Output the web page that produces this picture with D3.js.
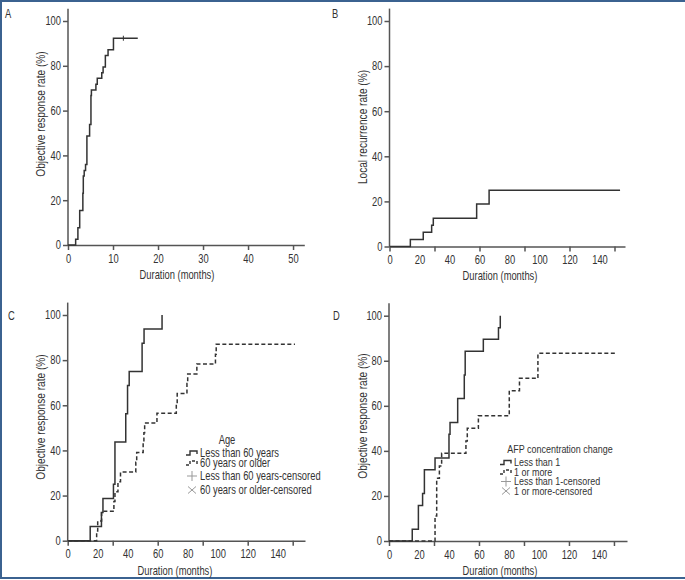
<!DOCTYPE html>
<html>
<head>
<meta charset="utf-8">
<script src="https://cdn.jsdelivr.net/npm/d3@7"></script>
<style>
  html, body { margin: 0; padding: 0; background: #fff; }
  svg text { font-family: "Liberation Sans", Arial, sans-serif; fill: #333; }
</style>
</head>
<body>
<svg id="chart" width="685" height="580"></svg>
<script>
// ---------- data ----------
const yTickValues = [0, 20, 40, 60, 80, 100];
const shortTickValues = [0, 10, 20, 30, 40, 50];
const longTickMarks = [0, 30, 60, 90, 120, 150];
const longTickLabels = [0, 20, 40, 60, 80, 100, 120, 140];

// Panel A: objective response rate (months, %)
const seriesA = [[0,0],[1.7,2.6],[2.2,7.7],[2.6,15.4],[3.3,23.1],[3.4,30.8],[3.6,33.3],[3.9,35.9],[4.2,48.7],[4.8,53.8],[5.1,66.7],[5.2,69.2],[6.2,71.8],[6.5,74.4],[7.5,76.9],[7.8,79.5],[8.3,84.6],[8.9,87.2],[10.1,92.3],[15.5,92.3]];
const censorA = [12.3];

// Panel B: local recurrence rate
const seriesB = [[0,0],[13.9,3.1],[22.5,6.3],[28.1,9.4],[29.2,12.5],[58.1,18.8],[66.4,25],[153.7,25]];

// Panel C: by age
const seriesCyoung = [[0,0],[15,6.25],[22.5,12.5],[23.5,18.75],[30.5,25],[31.5,43.75],[38.7,56.25],[39.9,68.75],[41,75],[49.6,87.5],[50.9,93.75],[62.9,100]];
const seriesCold = [[0,0],[19.3,4.35],[20,8.7],[22.6,13],[30.8,17.4],[31.5,21.7],[33.5,26.1],[35.2,30.4],[45.4,34.8],[46,39.1],[50.3,43.5],[50.8,47.8],[51.3,52.2],[59.5,56.5],[72.4,60.9],[73,65.2],[79.5,69.6],[80,73.9],[86.1,78.3],[98.5,82.6],[99,87],[151.5,87]];
const legendC = ["Less than 60 years", "60 years or older", "Less than 60 years-censored", "60 years or older-censored"];

// Panel D: by AFP concentration change
const seriesDless = [[0,0],[15.5,5.26],[19.6,15.8],[22.4,21.1],[23.6,31.6],[30.7,36.8],[40,47.4],[40.7,52.6],[45.8,63.2],[50.2,73.7],[50.8,84.2],[62.9,89.5],[73,94.7],[74.2,100]];
const seriesDmore = [[0,0],[30.7,11.1],[31.8,27.8],[33.6,33.3],[35.1,38.9],[51.3,44.4],[52.2,50],[59.6,55.6],[80.2,66.7],[87,72.2],[99.3,83.3],[151.8,83.3]];
const legendD = ["Less than 1", "1 or more", "Less than 1-censored", "1 or more-censored"];

// ---------- drawing ----------
const svg = d3.select("#chart");
const ink = "#333";
const narrow = 0.78;

svg.append("path")
  .attr("d", "M700,1 H1 V578 H700")
  .attr("fill", "none").attr("stroke", "#3b6290").attr("stroke-width", 2);

function panel(cfg) {
  const x = d3.scaleLinear().domain([0, cfg.xMax]).range([cfg.x0, cfg.x1]);
  const y = d3.scaleLinear().domain([0, 100]).range([cfg.y0, cfg.y100]);
  const g = svg.append("g");

  const yAxis = g.append("g").attr("transform", `translate(${cfg.x0},0)`)
    .call(d3.axisLeft(y).tickValues(yTickValues).tickSize(5).tickSizeOuter(0).tickPadding(2));
  yAxis.select(".domain").attr("d", `M0,${y(0)}V${y(105.5)}`);
  g.append("g").attr("transform", `translate(0,${cfg.y0})`)
    .call(d3.axisBottom(x).tickValues(cfg.tickMarks).tickFormat("").tickSize(5).tickSizeOuter(0));
  const xLab = g.append("g").attr("transform", `translate(0,${cfg.y0})`)
    .call(d3.axisBottom(x).tickValues(cfg.tickLabels).tickSize(0).tickPadding(9));
  xLab.select(".domain").remove();

  g.selectAll(".domain, .tick line").attr("stroke", "#555").attr("stroke-width", 1.5);
  g.selectAll(".tick text").attr("font-size", 12).attr("fill", ink)
    .style("font-family", '"Liberation Sans", Arial, sans-serif');

  g.append("text").attr("x", cfg.xTitleX).attr("y", cfg.y0 + 34)
    .attr("text-anchor", "middle").attr("font-size", 12).text("Duration (months)");
  g.append("text")
    .attr("transform", `translate(${cfg.yTitleX},${cfg.yTitleY}) rotate(-90)`)
    .attr("text-anchor", "middle").attr("font-size", 13).text(cfg.yTitle);
  g.append("text").attr("x", cfg.letterX).attr("y", cfg.letterY)
    .attr("font-size", 12).text(cfg.letter);

  const line = d3.line().x(d => x(d[0])).y(d => y(d[1])).curve(d3.curveStepAfter);
  cfg.series.forEach(s => {
    g.append("path").datum(s.data).attr("d", line)
      .attr("fill", "none").attr("stroke", ink).attr("stroke-width", 1.5)
      .attr("stroke-dasharray", s.dashed ? "4,2.5" : null);
  });
  (cfg.censor || []).forEach(c => {
    g.append("line").attr("x1", x(c.t)).attr("x2", x(c.t))
      .attr("y1", y(c.v) - 2.5).attr("y2", y(c.v) + 2.5)
      .attr("stroke", ink).attr("stroke-width", 1);
  });
  return {x, y, g};
}

function legend(g, cfg) {
  g.append("text").attr("x", cfg.titleX).attr("y", cfg.titleY)
    .attr("text-anchor", "middle").attr("font-size", cfg.titleFs).text(cfg.title);
  cfg.labels.forEach((lab, i) => {
    const by = cfg.rows[i];
    const cy = by - 4;
    const sx = cfg.symX;
    if (i < 2) {
      g.append("path")
        .attr("d", `M${sx},${cy + 2}H${sx + 4}V${cy - 2}H${sx + 11}V${cy + 1}`)
        .attr("fill", "none").attr("stroke", ink).attr("stroke-width", 1.4)
        .attr("stroke-dasharray", i === 1 ? "3,2" : null);
    } else if (i === 2) {
      g.append("path").attr("d", `M${sx + 1},${cy}H${sx + 11}M${sx + 6},${cy - 5}V${cy + 5}`)
        .attr("stroke", "#999").attr("stroke-width", 1);
    } else {
      g.append("path").attr("d", `M${sx + 2},${cy - 3.5}L${sx + 10},${cy + 3.5}M${sx + 2},${cy + 3.5}L${sx + 10},${cy - 3.5}`)
        .attr("stroke", "#999").attr("stroke-width", 1);
    }
    g.append("text").attr("x", cfg.textX).attr("y", by)
      .attr("font-size", cfg.fs).text(lab);
  });
}

panel({
  x0: 68, x1: 304.3, xMax: 52.5, y0: 245, y100: 21,
  tickMarks: shortTickValues, tickLabels: shortTickValues,
  xTitleX: 177, yTitleX: 45, yTitleY: 114, yTitle: "Objective response rate (%)",
  letter: "A", letterX: 5, letterY: 18,
  series: [{data: seriesA, dashed: false}],
  censor: censorA.map(t => ({t, v: 92.3}))
});

panel({
  x0: 389.5, x1: 625, xMax: 157, y0: 246.5, y100: 21,
  tickMarks: longTickMarks, tickLabels: longTickLabels,
  xTitleX: 500, yTitleX: 367, yTitleY: 127, yTitle: "Local recurrence rate (%)",
  letter: "B", letterX: 332, letterY: 18,
  series: [{data: seriesB, dashed: false}]
});

const pC = panel({
  x0: 67.7, x1: 305, xMax: 158.2, y0: 540.7, y100: 315,
  tickMarks: longTickMarks, tickLabels: longTickLabels,
  xTitleX: 175, yTitleX: 45, yTitleY: 417, yTitle: "Objective response rate (%)",
  letter: "C", letterX: 8, letterY: 320,
  series: [{data: seriesCyoung, dashed: false}, {data: seriesCold, dashed: true}]
});
legend(pC.g, {
  title: "Age", titleX: 227, titleY: 444, fs: 12, titleFs: 12,
  labels: legendC, rows: [457, 467, 480, 494], symX: 186, textX: 200
});

const pD = panel({
  x0: 389, x1: 627, xMax: 158.7, y0: 541, y100: 315.7,
  tickMarks: longTickMarks, tickLabels: longTickLabels,
  xTitleX: 500, yTitleX: 367, yTitleY: 416, yTitle: "Objective response rate (%)",
  letter: "D", letterX: 333, letterY: 320,
  series: [{data: seriesDless, dashed: false}, {data: seriesDmore, dashed: true}]
});
legend(pD.g, {
  title: "AFP concentration change", titleX: 560, titleY: 453, fs: 11.5, titleFs: 11.5,
  labels: legendD, rows: [466.5, 476, 485.5, 495], symX: 500, textX: 514
});

// condense all text horizontally (narrow sans, like the source figure)
svg.selectAll("text").each(function () {
  const t = d3.select(this);
  const tr = t.attr("transform");
  if (tr) {
    t.attr("transform", tr + ` scale(${narrow},1)`);
  } else {
    const ax = +t.attr("x") || 0;
    t.attr("transform", `translate(${ax},0) scale(${narrow},1) translate(${-ax},0)`);
  }
});
</script>
</body>
</html>
